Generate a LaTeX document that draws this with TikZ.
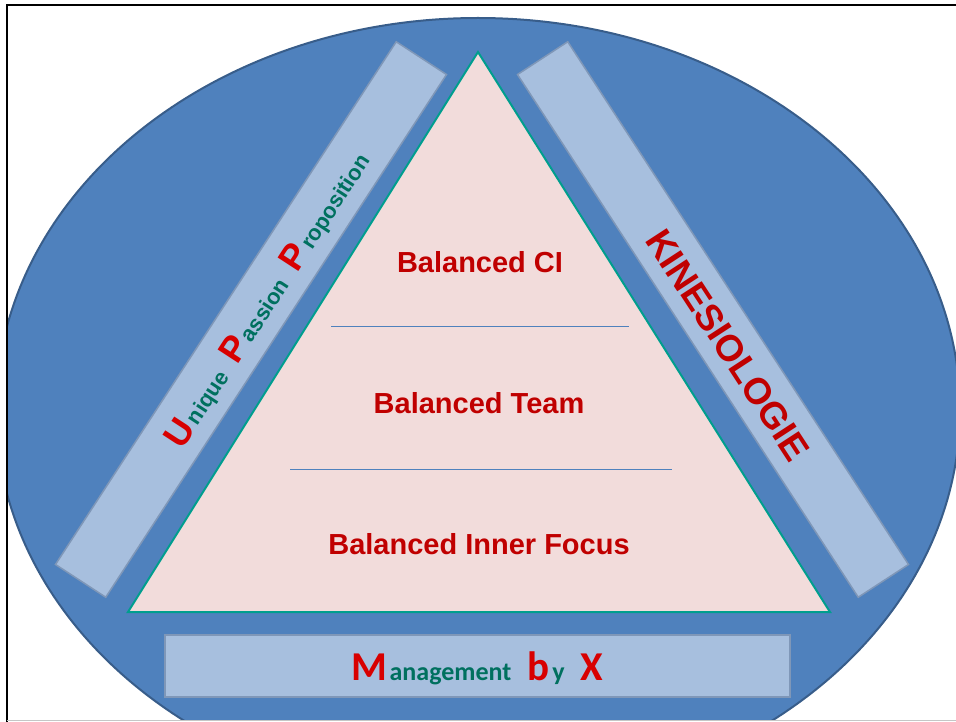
\documentclass[tikz,border=0pt]{standalone}
\usepackage{fontspec}
\setmainfont{Liberation Sans}
\newfontfamily\calib{Carlito}
\usepackage{tikz}

\definecolor{ovalblue}{HTML}{4F81BD}
\definecolor{ovaledge}{HTML}{385D8A}
\definecolor{barblue}{HTML}{A7BFDE}
\definecolor{baredge}{HTML}{7F97B8}
\definecolor{pyrpink}{HTML}{F2DCDB}
\definecolor{pyredge}{HTML}{009E8E}
\definecolor{deepred}{HTML}{C00000}
\definecolor{brightred}{HTML}{D80000}
\definecolor{tealtext}{HTML}{00705F}

\newcommand{\bigred}[2][36]{{\color{brightred}\fontsize{#1}{#1}\selectfont #2}}
\newcommand{\smallteal}[2][22]{{\color{tealtext}\fontsize{#1}{#1}\selectfont #2}}

\begin{document}
\begin{tikzpicture}[x=1pt, y=-1pt, every node/.style={inner sep=0pt, outer sep=0pt},
  bar/.style={fill=barblue, draw=baredge, line width=1.5pt},
  level/.style={text=deepred, font=\bfseries\fontsize{29}{35}\selectfont}]
\useasboundingbox (0,0) rectangle (956,722);
\begin{scope}
\clip (8,6) rectangle (956,720);
\draw[fill=ovalblue, draw=ovaledge, line width=2pt] (478,410) ellipse (482pt and 392pt);
\end{scope}
\draw[line width=2pt] (7,722) -- (7,5) -- (956,5);
\draw[gray!45, line width=1pt] (7,720.5) -- (956,720.5);

\node[bar, rotate=56.9, minimum width=624pt, minimum height=60pt] (upp) at (251,319.5) {};
\node[bar, rotate=-56.9, minimum width=624pt, minimum height=60pt] (kin) at (713,319.5) {};
\node[bar, minimum width=625pt, minimum height=62pt] (mbx) at (477.5,666) {};

\coordinate (apex) at (478,52);
\coordinate (left) at (128,612);
\coordinate (right) at (830,612);
\draw[fill=pyrpink, draw=pyredge, line width=2pt] (apex) -- (left) -- (right) -- cycle;
\draw[ovalblue, line width=0.8pt] (331,326) -- (629,326);
\draw[ovalblue, line width=0.8pt] (290,469) -- (672,469);

\node[level] (ci) at (480,262) {Balanced CI};
\node[level] (team) at (479,403) {Balanced Team};
\node[level] (inner) at (479,544) {Balanced Inner Focus};

\node[rotate=56.9, font=\bfseries] (upptext) at (268,300) {\bigred{U}\hspace{3pt}\smallteal{nique}\hspace{14pt}\bigred{P}\hspace{2pt}\smallteal{assion}\hspace{14pt}\bigred{P}\hspace{3pt}\smallteal{roposition}};
\node[rotate=-56.9, text=deepred, font=\bfseries\fontsize{37}{40}\selectfont] (kintext) at (728,345) {KINESIOLOGIE};
\node[anchor=base, font=\calib\bfseries] (mbxtext) at (477.5,680) {\bigred[41]{M}\hspace{2pt}\smallteal[26]{anagement}\hspace{16pt}\bigred[41]{b}\hspace{3pt}\smallteal[26]{y}\hspace{16pt}\bigred[41]{X}};
\end{tikzpicture}
\end{document}
